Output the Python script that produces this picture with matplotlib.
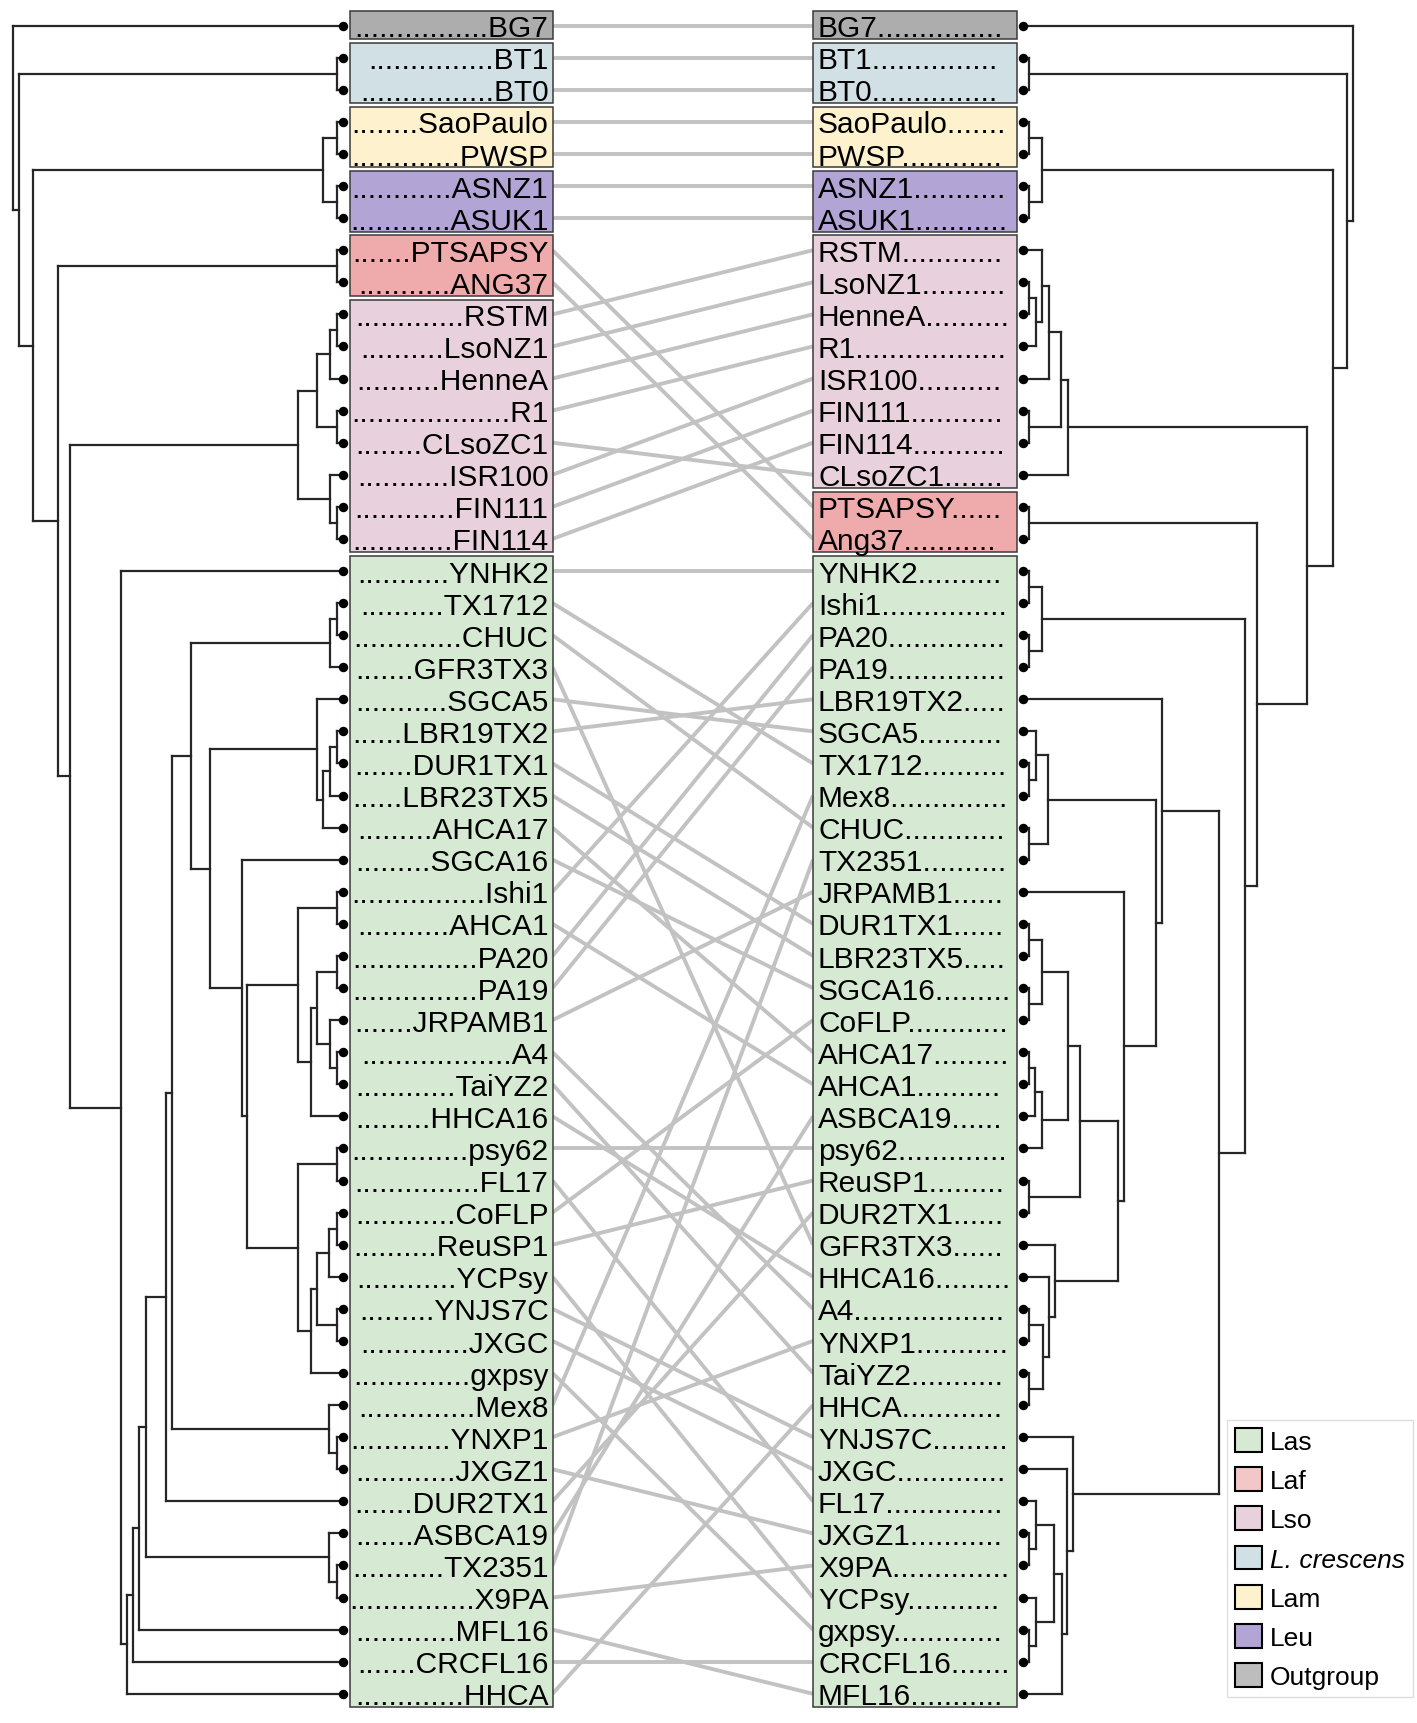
import matplotlib
matplotlib.use("Agg")
import matplotlib.pyplot as plt
from matplotlib.patches import Rectangle, Patch

plt.rcParams['font.family'] = ['Liberation Sans', 'DejaVu Sans']

# leaf order of both trees (top to bottom)
left_names = ["BG7", "BT1", "BT0", "SaoPaulo", "PWSP", "ASNZ1", "ASUK1", "PTSAPSY", "ANG37",
              "RSTM", "LsoNZ1", "HenneA", "R1", "CLsoZC1", "ISR100", "FIN111", "FIN114",
              "YNHK2", "TX1712", "CHUC", "GFR3TX3", "SGCA5", "LBR19TX2", "DUR1TX1", "LBR23TX5",
              "AHCA17", "SGCA16", "Ishi1", "AHCA1", "PA20", "PA19", "JRPAMB1", "A4", "TaiYZ2",
              "HHCA16", "psy62", "FL17", "CoFLP", "ReuSP1", "YCPsy", "YNJS7C", "JXGC", "gxpsy",
              "Mex8", "YNXP1", "JXGZ1", "DUR2TX1", "ASBCA19", "TX2351", "X9PA", "MFL16",
              "CRCFL16", "HHCA"]
left_dots = [16, 15, 16, 8, 13, 12, 12, 7, 11, 13, 10, 10, 19, 8, 11, 12, 12,
             11, 10, 13, 7, 11, 6, 7, 6, 9, 9, 16, 11, 15, 15, 7, 18, 12,
             9, 14, 15, 12, 10, 12, 9, 13, 14, 14, 12, 12, 7, 7, 11, 15, 12, 7, 13]

right_names = ["BG7", "BT1", "BT0", "SaoPaulo", "PWSP", "ASNZ1", "ASUK1", "RSTM", "LsoNZ1",
               "HenneA", "R1", "ISR100", "FIN111", "FIN114", "CLsoZC1", "PTSAPSY", "Ang37",
               "YNHK2", "Ishi1", "PA20", "PA19", "LBR19TX2", "SGCA5", "TX1712", "Mex8", "CHUC",
               "TX2351", "JRPAMB1", "DUR1TX1", "LBR23TX5", "SGCA16", "CoFLP", "AHCA17", "AHCA1",
               "ASBCA19", "psy62", "ReuSP1", "DUR2TX1", "GFR3TX3", "HHCA16", "A4", "YNXP1",
               "TaiYZ2", "HHCA", "YNJS7C", "JXGC", "FL17", "JXGZ1", "X9PA", "YCPsy", "gxpsy",
               "CRCFL16", "MFL16"]
right_dots = [15, 15, 15, 7, 12, 11, 11, 12, 10, 10, 18, 10, 11, 11, 7, 6, 11,
              10, 15, 14, 14, 5, 10, 10, 14, 12, 10, 6, 6, 5, 9, 12, 9, 10,
              6, 13, 9, 6, 6, 9, 18, 11, 11, 12, 9, 13, 14, 11, 14, 11, 13, 7, 11]

# clade membership
groups = {
    "Las": ["YNHK2", "TX1712", "CHUC", "GFR3TX3", "SGCA5", "LBR19TX2", "DUR1TX1", "LBR23TX5",
            "AHCA17", "SGCA16", "Ishi1", "AHCA1", "PA20", "PA19", "JRPAMB1", "A4", "TaiYZ2",
            "HHCA16", "psy62", "FL17", "CoFLP", "ReuSP1", "YCPsy", "YNJS7C", "JXGC", "gxpsy",
            "Mex8", "YNXP1", "JXGZ1", "DUR2TX1", "ASBCA19", "TX2351", "X9PA", "MFL16",
            "CRCFL16", "HHCA"],
    "Laf": ["PTSAPSY", "ANG37", "Ang37"],
    "Lso": ["RSTM", "LsoNZ1", "HenneA", "R1", "CLsoZC1", "ISR100", "FIN111", "FIN114"],
    "L. crescens": ["BT1", "BT0"],
    "Lam": ["SaoPaulo", "PWSP"],
    "Leu": ["ASNZ1", "ASUK1"],
    "Outgroup": ["BG7"],
}
box_colors = {"Las": "#d6e9d2", "Laf": "#efabab", "Lso": "#e8d1dd", "L. crescens": "#d1e0e5",
              "Lam": "#fdf2cd", "Leu": "#b2a5d5", "Outgroup": "#adadad"}
legend_colors = {"Las": "#d6e9d2", "Laf": "#f3c7c7", "Lso": "#e8d1dd", "L. crescens": "#d1e0e5",
                 "Lam": "#fdf2cd", "Leu": "#b2a5d5", "Outgroup": "#bdbdbd"}

# trees: (height above tips, child, child, ...), leaves are names
left_lso = (44.7, (25.7, (12.5, (6, "RSTM", "LsoNZ1"), "HenneA"), (6, "R1", "CLsoZC1")),
            (12.5, "ISR100", (6, "FIN111", "FIN114")))
left_sgca5 = (26.2, "SGCA5", (19.6, (12.9, (6, "LBR19TX2", "DUR1TX1"), "LBR23TX5"), "AHCA17"))
left_ishi = (44.7, (6, "Ishi1", "AHCA1"),
             (31.9, (25.7, (6, "PA20", "PA19"), (12.9, "JRPAMB1", (6, "A4", "TaiYZ2"))), "HHCA16"))
left_psy = (44.7, (6, "psy62", "FL17"),
            (31.9, (25.7, (13.6, (6, "CoFLP", "ReuSP1"), "YCPsy"), (6, "YNJS7C", "JXGC")), "gxpsy"))
left_tree = (329.7, "BG7",
             (324.3, (6, "BT1", "BT0"),
              (310, (19.7, (6, "SaoPaulo", "PWSP"), (6, "ASNZ1", "ASUK1")),
               (285, (6, "PTSAPSY", "ANG37"),
                (272.5, left_lso,
                 (221.5, "YNHK2",
                  (216.1,
                   (210,
                    (203.6,
                     (196.5,
                      (176.8,
                       (170.4,
                        (151.8, (12.5, (6, "TX1712", "CHUC"), "GFR3TX3"),
                         (132.9, left_sgca5, (101.1, "SGCA16", (95.4, left_ishi, left_psy)))),
                        (14.3, "Mex8", (6, "YNXP1", "JXGZ1"))),
                       "DUR2TX1"),
                      (14.3, "ASBCA19", (6, "TX2351", "X9PA"))),
                     "MFL16"),
                    "CRCFL16"),
                   "HHCA")))))))

right_lso = (45, (38.3, (26.3, (19.6, "RSTM", (13.3, (6.6, "LsoNZ1", "HenneA"), "R1")), "ISR100"),
                  (6.6, "FIN111", "FIN114")), "CLsoZC1")
right_mid = (95.6,
             (57.3,
              (45, (19.6, (6.6, "DUR1TX1", "LBR23TX5"), (6.6, "SGCA16", "CoFLP")),
               (19.6, (12.3, (6.6, "AHCA17", "AHCA1"), "ASBCA19"), "psy62")),
              (6.6, "ReuSP1", "DUR2TX1")),
             (32.3, "GFR3TX3", (26.6, "HHCA16", (20, (6.6, "A4", "YNXP1"), (6.6, "TaiYZ2", "HHCA")))))
right_low = (50.6, "YNJS7C",
             (44.6, "JXGC",
              (39, (31.6, (13.3, "FL17", (6.6, "JXGZ1", "X9PA")),
                    (13.3, "YCPsy", (6.6, "gxpsy", "CRCFL16"))), "MFL16")))
right_tree = (330.6, "BG7",
              (324, (6.6, "BT1", "BT0"),
               (310.6, (19.6, (6.6, "SaoPaulo", "PWSP"), (6.6, "ASNZ1", "ASUK1")),
                (284.6, right_lso,
                 (234.6, (6.6, "PTSAPSY", "Ang37"),
                  (222.3, (19.6, (6.6, "YNHK2", "Ishi1"), (6.6, "PA20", "PA19")),
                   (196.6,
                    (139.6, "LBR19TX2",
                     (133.3, (25.6, (13.3, "SGCA5", (6.6, "TX1712", "Mex8")), (6.6, "CHUC", "TX2351")),
                      (101.3, "JRPAMB1", right_mid))),
                    right_low)))))))

W, H = 1417, 1724
fig = plt.figure(figsize=(W / 100, H / 100), dpi=100)
ax = fig.add_axes([0, 0, 1, 1])
ax.set_xlim(0, W)
ax.set_ylim(52.91, -0.83)
ax.axis("off")

tree_col = "#262626"
tree_lw = 1.6


def draw_tree(node, ypos, tip_x, sign):
    if isinstance(node, str):
        return ypos[node]
    h = node[0]
    x = tip_x + sign * h
    ys = []
    for kid in node[1:]:
        ky = draw_tree(kid, ypos, tip_x, sign)
        kx = tip_x if isinstance(kid, str) else tip_x + sign * kid[0]
        ax.plot([x, kx], [ky, ky], color=tree_col, lw=tree_lw, solid_capstyle="projecting", zorder=2)
        ys.append(ky)
    ax.plot([x, x], [min(ys), max(ys)], color=tree_col, lw=tree_lw, solid_capstyle="projecting", zorder=2)
    return (min(ys) + max(ys)) / 2


def group_of(name):
    for g, members in groups.items():
        if name in members:
            return g


def draw_boxes(names, x0, x1):
    start = 0
    for i in range(1, len(names) + 1):
        if i == len(names) or group_of(names[i]) != group_of(names[start]):
            g = group_of(names[start])
            top = start - 0.46
            bot = (i - 1) + 0.42
            ax.add_patch(Rectangle((x0, top), x1 - x0, bot - top, facecolor=box_colors[g],
                                   edgecolor="#3a3a3a", lw=1.1, zorder=1))
            start = i


left_y = {n: i for i, n in enumerate(left_names)}
right_y = {n: i for i, n in enumerate(right_names)}

L_TIP, L_BOX0, L_BOX1 = 342.9, 349.5, 552.5
R_TIP, R_BOX0, R_BOX1 = 1022.7, 813.0, 1016.5

# connectors between the same strain in both trees
for n in left_names:
    rn = [r for r in right_names if r.lower() == n.lower()][0]
    ax.plot([L_BOX1, R_BOX0], [left_y[n], right_y[rn]], color="#c2c2c2", lw=2.8,
            solid_capstyle="butt", zorder=0)

draw_boxes(left_names, L_BOX0, L_BOX1)
draw_boxes(right_names, R_BOX0, R_BOX1)

draw_tree(left_tree, left_y, L_TIP, -1)
draw_tree(right_tree, right_y, R_TIP, 1)

ax.plot([L_TIP] * len(left_names), range(len(left_names)), "o", color="black", ms=5.8, zorder=4)
ax.plot([R_TIP] * len(right_names), range(len(right_names)), "o", color="black", ms=5.8, zorder=4)

fs = 21.5
for i, (n, d) in enumerate(zip(left_names, left_dots)):
    ax.text(L_BOX1 - 4, i + 0.33, "." * d + n, ha="right", va="baseline", fontsize=fs, zorder=3)
for i, (n, d) in enumerate(zip(right_names, right_dots)):
    ax.text(R_BOX0 + 5, i + 0.33, n + "." * d, ha="left", va="baseline", fontsize=fs, zorder=3)

handles = [Patch(facecolor=legend_colors[g], edgecolor="black", lw=1.5, label=g) for g in groups]
leg = ax.legend(handles=handles, loc="upper left", bbox_to_anchor=(1227 / W, 1 - 1421 / H),
                bbox_transform=fig.transFigure, fontsize=19, handlelength=1.02, handleheight=1.02,
                handletextpad=0.3, labelspacing=0.5, borderpad=0.3, borderaxespad=0,
                fancybox=False, edgecolor="#dddddd", framealpha=1)
leg.get_frame().set_linewidth(1.0)
leg.get_texts()[3].set_style("italic")

fig.savefig("out.png", dpi=100)
